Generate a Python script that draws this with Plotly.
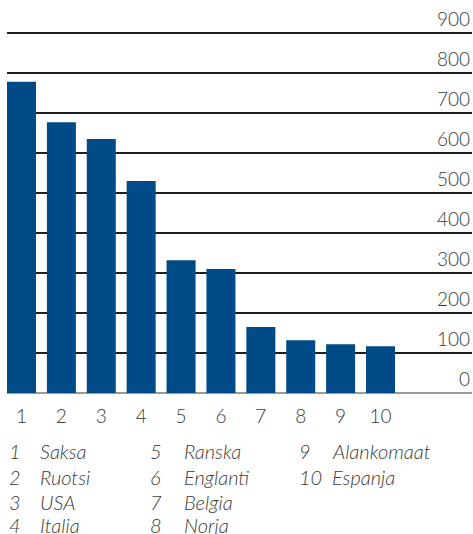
import plotly.graph_objects as go

# ---------------------------------------------------------------------------
# Data
# ---------------------------------------------------------------------------
ranks = [1, 2, 3, 4, 5, 6, 7, 8, 9, 10]
values = [778, 677, 635, 530, 332, 310, 165, 132, 122, 117]
countries = ["Saksa", "Ruotsi", "USA", "Italia", "Ranska",
             "Englanti", "Belgia", "Norja", "Alankomaat", "Espanja"]
y_ticks = [0, 100, 200, 300, 400, 500, 600, 700, 800, 900]

BAR_COLOR = "#004b87"
TEXT_COLOR = "#3a3a3a"
FONT = "Lato"

W, H = 473, 534
# plot area in pixels
L, R, T, B = 7, 472, 31, 395


def px_x(px):
    return (px - L) / (R - L)


def px_y(py):
    return (B - py) / (B - T)


fig = go.Figure(
    go.Bar(
        x=ranks,
        y=values,
        width=0.727,
        marker=dict(color=BAR_COLOR, line=dict(width=0)),
        hoverinfo="x+y",
    )
)

# y tick labels sit just above their gridlines, right-aligned
for v in y_ticks:
    fig.add_annotation(
        x=1, xref="paper", y=v, yref="y",
        text=str(v), showarrow=False,
        xanchor="right", yanchor="bottom", yshift=1,
        font=dict(family=FONT, size=19, color=TEXT_COLOR, weight=300),
    )

# legend: three columns of "number  country"
row_y = [451, 476.5, 501.5, 525]
col_num_x = [7, 148, 297]
col_name_x = [38, 182, 330]
for i, (rank, name) in enumerate(zip(ranks, countries)):
    col, row = divmod(i, 4)
    py = row_y[row]
    for px, txt in ((col_num_x[col], str(rank)), (col_name_x[col], name)):
        fig.add_annotation(
            x=px_x(px), xref="paper", y=px_y(py), yref="paper",
            text=f"<i>{txt}</i>", showarrow=False,
            xanchor="left", yanchor="middle",
            font=dict(family=FONT, size=20, color=TEXT_COLOR, weight=300),
        )

fig.update_layout(
    width=W,
    height=H,
    margin=dict(l=L, r=W - R, t=T, b=H - B, pad=0),
    paper_bgcolor="white",
    plot_bgcolor="white",
    showlegend=False,
    xaxis=dict(
        range=[1 - 14.5 / 39.89, 1 + 450.5 / 39.89],
        tickvals=ranks,
        ticktext=[str(r) for r in ranks],
        showgrid=False,
        zeroline=False,
        showline=False,
        ticks="",
        ticklabelstandoff=8,
        tickfont=dict(family=FONT, size=19, color=TEXT_COLOR, weight=300),
    ),
    yaxis=dict(
        range=[-5, 905],
        tickvals=y_ticks,
        showticklabels=False,
        showgrid=True,
        gridcolor="#1e1e1e",
        gridwidth=1.5,
        zeroline=True,
        zerolinecolor="#9a9a9a",
        zerolinewidth=2,
        ticks="",
    ),
)

# drop the default page margin so the figure fills the window exactly
fig.write_html(
    "out.html",
    config={"displayModeBar": False},
    post_script="document.body.style.margin='0';document.body.style.overflow='hidden';",
)
